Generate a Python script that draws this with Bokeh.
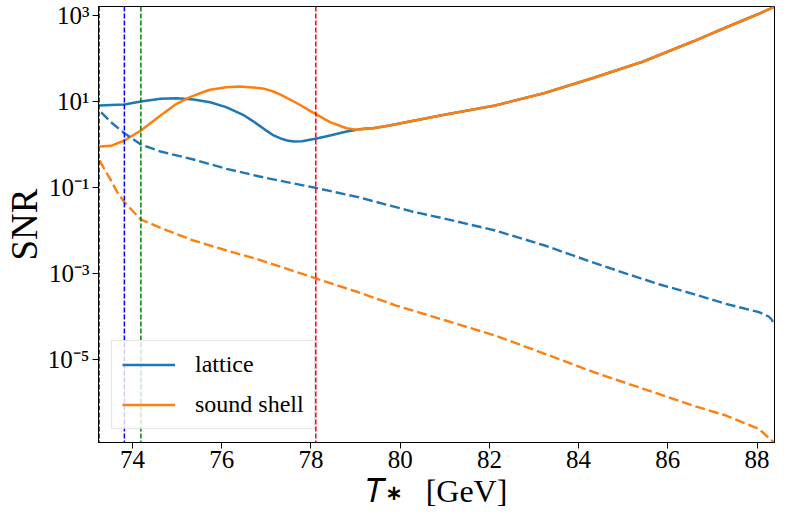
from bokeh.plotting import figure
from bokeh.models import Range1d, FixedTicker, CustomJSTickFormatter, Span
from bokeh.embed import file_html
from bokeh.resources import INLINE

# ---- data ----
T_lattice = [73.26, 73.52, 73.82, 74.19, 74.63, 74.99, 75.37, 75.74, 76.10, 76.48,
             76.70, 76.96, 77.14, 77.32, 77.47, 77.62, 77.80, 78.10, 78.43, 78.80,
             79.17, 79.39, 79.76, 80.13, 81.02, 82.13, 83.24, 84.34, 85.45, 86.56,
             87.30, 88.04, 88.37]
SNR_lattice = [8.1, 8.3, 8.5, 10.0, 11.6, 11.9, 11.1, 9.6, 7.4, 4.9,
               3.5, 2.25, 1.68, 1.38, 1.24, 1.17, 1.19, 1.36, 1.62, 2.0,
               2.32, 2.38, 2.77, 3.3, 4.99, 8.1, 15.8, 35.6, 85.0, 248.0,
               526.0, 1096.0, 1560.0]

T_sound = [73.26, 73.52, 73.82, 74.19, 74.63, 74.99, 75.29, 75.59, 75.74, 76.10,
           76.40, 76.70, 76.96, 77.14, 77.32, 77.69, 78.10, 78.43, 78.80, 79.02,
           79.39, 79.76, 80.13, 81.02, 82.13, 83.24, 84.34, 85.45, 86.56, 87.30,
           88.04, 88.37]
SNR_sound = [0.90, 0.93, 1.24, 2.12, 4.72, 8.85, 12.6, 16.6, 18.7, 21.5,
             22.3, 21.2, 19.7, 17.3, 14.5, 9.1, 5.17, 3.30, 2.39, 2.20,
             2.38, 2.77, 3.3, 4.99, 8.1, 15.8, 35.6, 85.0, 248.0, 526.0,
             1096.0, 1560.0]

T_lattice_dash = [73.30, 73.52, 73.82, 74.19, 74.63, 75.37, 76.11, 76.85, 77.58, 78.10,
                  79.06, 79.91, 80.24, 81.02, 82.13, 83.24, 84.20, 85.08, 85.82, 86.56,
                  87.30, 88.04, 88.26, 88.33, 88.37]
SNR_lattice_dash = [5.6, 3.30, 1.83, 1.0, 0.687, 0.448, 0.272, 0.180, 0.126, 0.0984,
                    0.0595, 0.0348, 0.0281, 0.0187, 0.0100, 0.00448, 0.00200, 0.000984, 0.000555, 0.000337,
                    0.000197, 0.000126, 0.000100, 0.000084, 0.0000676]

T_sound_dash = [73.26, 73.39, 73.52, 73.66, 73.82, 74.19, 74.63, 75.37, 76.11, 76.85,
                77.58, 78.10, 79.06, 79.91, 81.02, 82.13, 83.24, 84.34, 85.45, 86.56,
                87.30, 88.04, 88.37]
SNR_sound_dash = [0.425, 0.248, 0.146, 0.0778, 0.0455, 0.0180, 0.01156, 0.00585, 0.00343, 0.00208,
                  0.00117, 0.000778, 0.000367, 0.000180, 8.07e-5, 3.61e-5, 1.36e-5, 5.07e-6, 2.08e-6, 8.5e-7,
                  4.99e-7, 2.44e-7, 1.19e-7]

vline_T = [73.25, 73.82, 74.19, 78.11]
vline_colors = ["black", "#0000ff", "#008000", "#ff0000"]

x_ticks = [74, 76, 78, 80, 82, 84, 86, 88]
y_ticks = [1e-5, 1e-3, 1e-1, 1e1, 1e3]

series_labels = ["lattice", "sound shell"]
x_label = "\U0001D447\u2217\u2002 [GeV]"
y_label = "SNR"
c_blue = "#1f77b4"
c_orange = "#ff7f0e"

FONT = "Liberation Serif"

p = figure(width=775, height=515, output_backend="svg", toolbar_location=None,
           y_axis_type="log",
           x_range=Range1d(73.24, 88.39),
           y_range=Range1d(10 ** -6.93, 10 ** 3.209),
           min_border_left=91, min_border_right=1, min_border_top=6, min_border_bottom=73)

p.xgrid.visible = False
p.ygrid.visible = False
p.outline_line_color = "black"
p.outline_line_width = 1
p.outline_line_alpha = 1.0

# vertical dashed lines (added before legend so the legend sits on top)
for v, c in zip(vline_T, vline_colors):
    p.add_layout(Span(location=v, dimension="height", line_color=c,
                      line_width=1.5, line_dash="5 2"))

p.line(T_lattice, SNR_lattice, line_color=c_blue, line_width=2.5, legend_label=series_labels[0])
p.line(T_sound, SNR_sound, line_color=c_orange, line_width=2.5, legend_label=series_labels[1])
p.line(T_lattice_dash, SNR_lattice_dash, line_color=c_blue, line_width=2.4, line_dash="10 4")
p.line(T_sound_dash, SNR_sound_dash, line_color=c_orange, line_width=2.4, line_dash="10 4")

# axes
p.xaxis.ticker = FixedTicker(ticks=x_ticks, minor_ticks=[])
p.yaxis.ticker = FixedTicker(ticks=y_ticks, minor_ticks=[])
p.yaxis.formatter = CustomJSTickFormatter(code="""
const sup = {"-":"\u207b","0":"\u2070","1":"\u00b9","2":"\u00b2","3":"\u00b3","4":"\u2074",
             "5":"\u2075","6":"\u2076","7":"\u2077","8":"\u2078","9":"\u2079"};
const e = Math.round(Math.log10(tick));
return "10" + String(e).split("").map(c => sup[c]).join("");
""")
for ax in (p.xaxis[0], p.yaxis[0]):
    ax.axis_line_color = "black"
    ax.major_tick_line_color = "black"
    ax.major_tick_out = 6
    ax.major_tick_in = 0
    ax.minor_tick_out = 0
    ax.minor_tick_in = 0
    ax.major_label_text_font = FONT
    ax.major_label_text_font_size = "25px"
    ax.major_label_text_color = "black"
    ax.axis_label_text_font = FONT
    ax.axis_label_text_font_style = "normal"
    ax.axis_label_text_color = "black"
    ax.axis_label_standoff = 0
p.xaxis.major_label_standoff = 2
p.yaxis.major_label_standoff = 3
p.xaxis.axis_label_standoff = 2

p.yaxis.axis_label = y_label
p.yaxis.axis_label_text_font_size = "37px"
p.xaxis.axis_label = x_label
p.xaxis.axis_label_text_font_size = "32px"

# legend
lg = p.legend[0]
lg.location = (13, 13)
lg.margin = 0
lg.padding = 10
lg.spacing = 13
lg.glyph_width = 53
lg.glyph_height = 23
lg.label_height = 23
lg.label_standoff = 20
lg.label_text_font = FONT
lg.label_text_font_size = "24px"
lg.label_text_color = "black"
lg.border_line_color = "#cccccc"
lg.border_line_width = 1
lg.background_fill_alpha = 0.8

open("out.html", "w").write(file_html(p, INLINE))
